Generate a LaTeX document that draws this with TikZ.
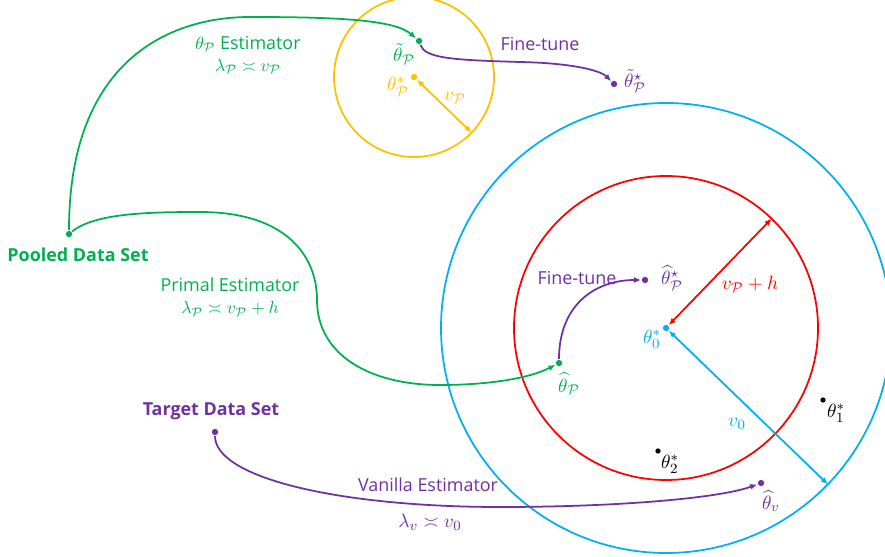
\documentclass[tikz,border=0pt]{standalone}
\usepackage{amsmath,amssymb}
\usepackage{fontspec}
\setmainfont{Open Sans}
\usepackage{tikz}
\usetikzlibrary{arrows.meta,calc}
\definecolor{poolgreen}{HTML}{00B050}
\definecolor{tunepurple}{HTML}{7030A0}
\definecolor{ballyellow}{HTML}{FFC000}
\definecolor{ballblue}{HTML}{00B0F0}
\definecolor{ballred}{HTML}{FF0000}

\begin{document}
\begin{tikzpicture}[
  x=0.02cm, y=-0.02cm,
  font=\fontsize{10.2}{12.5}\selectfont,
  line width=1pt,
  dot/.style={circle, fill, inner sep=0pt, minimum size=3.6pt},
  smalldot/.style={circle, fill, inner sep=0pt, minimum size=3pt},
  curve/.style={-{Latex[length=4pt, width=3.4pt]}},
  radius arrow/.style={{Latex[length=4pt, width=3.4pt]}-{Latex[length=4pt, width=3.4pt]}},
  dataset/.style={font=\fontsize{10.2}{12.5}\selectfont\bfseries},
  estimator/.style={align=center, inner sep=1pt},
  mathlabel/.style={inner sep=1pt, font=\fontsize{11}{13}\selectfont}
]
  \useasboundingbox (0,0) rectangle (885,557);
  \node[dot, poolgreen] (pooled) at (69,234) {};
  \node[dataset, text=poolgreen] (pooledlabel) at (78,255) {Pooled Data Set};
  \node[dot, tunepurple] (target) at (215,432) {};
  \node[dataset, text=tunepurple] (targetlabel) at (211,411) {Target Data Set};
  \node[dot, ballyellow] (thetaPstar) at (414,77) {};
  \node[mathlabel, text=ballyellow] (thetaPstarlabel) at (398,87) {$\theta^*_{\mathcal{P}}$};
  \node[dot, poolgreen] (tildeP) at (419,41) {};
  \node[mathlabel, text=poolgreen] (tildePlabel) at (404,54) {$\tilde{\theta}_{\mathcal{P}}$};
  \node[dot, tunepurple] (tildeStar) at (614,84) {};
  \node[mathlabel, text=tunepurple] (tildeStarlabel) at (635,81) {$\tilde{\theta}^{\star}_{\mathcal{P}}$};
  \node[dot, ballblue] (theta0) at (666,328) {};
  \node[mathlabel, text=ballblue] (theta0label) at (652,339) {$\theta^*_0$};
  \node[dot, poolgreen] (hatP) at (559,363) {};
  \node[mathlabel, text=poolgreen] (hatPlabel) at (569,384) {$\widehat{\theta}_{\mathcal{P}}$};
  \node[dot, tunepurple] (hatStar) at (645,280) {};
  \node[mathlabel, text=tunepurple] (hatStarlabel) at (672,278) {$\widehat{\theta}^{\star}_{\mathcal{P}}$};
  \node[dot, tunepurple] (hatV) at (761,483) {};
  \node[mathlabel, text=tunepurple] (hatVlabel) at (771,501) {$\widehat{\theta}_v$};
  \node[smalldot] (theta1) at (823,400) {};
  \node[mathlabel] (theta1label) at (836,413) {$\theta^*_1$};
  \node[smalldot] (theta2) at (658,451) {};
  \node[mathlabel] (theta2label) at (670,464) {$\theta^*_2$};

  \draw[ballyellow] (thetaPstar.center) circle[radius=80];
  \draw[ballred] (theta0.center) circle[radius=152];
  \draw[ballblue] (theta0.center) circle[radius=225];
  \coordinate (yedge) at ($(thetaPstar.center)+(44:80)$);
  \coordinate (redge) at ($(theta0.center)+(-46:152)$);
  \coordinate (bedge) at ($(theta0.center)+(44:225)$);
  \draw[radius arrow, ballyellow] (thetaPstar) -- (yedge);
  \draw[radius arrow, ballred] (theta0) -- (redge);
  \draw[radius arrow, ballblue] (theta0) -- (bedge);
  \node[mathlabel, text=ballyellow] (yellowlabel) at (455,98) {$v_{\mathcal{P}}$};
  \node[mathlabel, text=ballred] (redlabel) at (750,284) {$v_{\mathcal{P}}+h$};
  \node[mathlabel, text=ballblue] (bluelabel) at (737,424) {$v_0$};

  \draw[curve, poolgreen] (pooled) .. controls (69,60) and (170,17) .. (250,17)
    .. controls (340,17) and (395,20) .. (tildeP);
  \draw[curve, poolgreen] (pooled) .. controls (95,213) and (150,212) .. (200,212)
    .. controls (285,212) and (317,255) .. (317,300)
    .. controls (317,355) and (370,385) .. (440,385)
    .. controls (490,385) and (530,378) .. (hatP);
  \draw[curve, tunepurple] (tildeP) .. controls (425,58) and (450,60) .. (520,62)
    .. controls (570,63) and (600,70) .. (tildeStar);
  \draw[curve, tunepurple] (hatP) .. controls (559,305) and (595,280) .. (hatStar);
  \draw[curve, tunepurple] (target) .. controls (215,478) and (340,507) .. (500,507)
    .. controls (620,507) and (720,498) .. (hatV);

  \node[estimator, text=poolgreen] (thetaEst) at (248,55) {$\theta_{\mathcal{P}}$ Estimator\\ $\lambda_{\mathcal{P}}\asymp v_{\mathcal{P}}$};
  \node[estimator, text=poolgreen] (primalEst) at (230,297) {Primal Estimator\\ $\lambda_{\mathcal{P}}\asymp v_{\mathcal{P}}+h$};
  \node[text=tunepurple] (vanillaEst) at (428,485) {Vanilla Estimator};
  \node[mathlabel, text=tunepurple] (vanillaRate) at (430,522) {$\lambda_v\asymp v_0$};
  \node[text=tunepurple] (tuneTop) at (540,44) {Fine-tune};
  \node[text=tunepurple] (tuneMid) at (577,278) {Fine-tune};
\end{tikzpicture}
\end{document}
